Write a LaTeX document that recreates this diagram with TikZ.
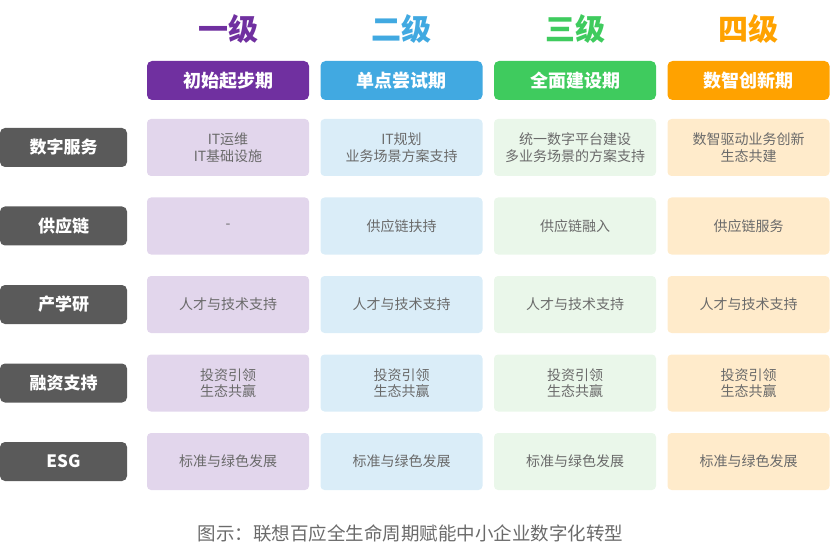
\documentclass[tikz,border=0pt]{standalone}
\usepackage{fontspec}
\setmainfont{Noto Sans CJK SC}
\definecolor{cPur}{HTML}{7030A0}
\definecolor{cBlu}{HTML}{41A9E1}
\definecolor{cGrn}{HTML}{3FCB5E}
\definecolor{cOra}{HTML}{FFA200}
\definecolor{lPur}{HTML}{E2D6EC}
\definecolor{lBlu}{HTML}{DAEDF8}
\definecolor{lGrn}{HTML}{EAF7EA}
\definecolor{lOra}{HTML}{FFEBCB}
\definecolor{cDark}{HTML}{5A5A5A}
\definecolor{cTxt}{HTML}{6A6A6A}
\begin{document}
\begin{tikzpicture}[x=1pt,y=-1pt,
  lvl/.style={font=\fontsize{30}{32}\selectfont\bfseries, inner sep=0pt},
  hdr/.style={rounded corners=5pt, minimum width=162pt, minimum height=39pt, inner sep=0pt, text=white, font=\fontsize{18}{20}\selectfont\bfseries},
  rowlab/.style={fill=cDark, rounded corners=5pt, minimum width=127pt, minimum height=39pt, inner sep=0pt, text=white, font=\fontsize{17}{19}\selectfont\bfseries},
  cell/.style={rounded corners=4pt, minimum width=162pt, minimum height=57pt, inner sep=0pt, text=cTxt, align=center, font=\fontsize{14}{16.5}\selectfont},
  captext/.style={text=cTxt, font=\fontsize{18.5}{20}\selectfont, inner sep=0pt}]
\useasboundingbox (0,0) rectangle (830,556);
% level titles
\node[lvl, text=cPur] (t1) at (228,29) {一级};
\node[lvl, text=cBlu] (t2) at (401.5,29) {二级};
\node[lvl, text=cGrn] (t3) at (575,29) {三级};
\node[lvl, text=cOra] (t4) at (748.5,29) {四级};
% headers
\node[hdr, fill=cPur] (h1) at (228,80.5) {初始起步期};
\node[hdr, fill=cBlu] (h2) at (401.5,80.5) {单点尝试期};
\node[hdr, fill=cGrn] (h3) at (575,80.5) {全面建设期};
\node[hdr, fill=cOra] (h4) at (748.5,80.5) {数智创新期};
% row labels
\node[rowlab] (r1) at (63.5,147.5) {数字服务};
\node[rowlab] (r2) at (63.5,226) {供应链};
\node[rowlab] (r3) at (63.5,304.5) {产学研};
\node[rowlab] (r4) at (63.5,383) {融资支持};
\node[rowlab] (r5) at (63.5,461.5) {ESG};
% row 1
\node[cell, fill=lPur] (c11) at (228,147.5) {IT运维\\IT基础设施};
\node[cell, fill=lBlu] (c12) at (401.5,147.5) {IT规划\\业务场景方案支持};
\node[cell, fill=lGrn] (c13) at (575,147.5) {统一数字平台建设\\多业务场景的方案支持};
\node[cell, fill=lOra] (c14) at (748.5,147.5) {数智驱动业务创新\\生态共建};
% row 2
\node[cell, fill=lPur] (c21) at (228,226) {-};
\node[cell, fill=lBlu] (c22) at (401.5,226) {供应链扶持};
\node[cell, fill=lGrn] (c23) at (575,226) {供应链融入};
\node[cell, fill=lOra] (c24) at (748.5,226) {供应链服务};
% row 3
\node[cell, fill=lPur] (c31) at (228,304.5) {人才与技术支持};
\node[cell, fill=lBlu] (c32) at (401.5,304.5) {人才与技术支持};
\node[cell, fill=lGrn] (c33) at (575,304.5) {人才与技术支持};
\node[cell, fill=lOra] (c34) at (748.5,304.5) {人才与技术支持};
% row 4
\node[cell, fill=lPur] (c41) at (228,383) {投资引领\\生态共赢};
\node[cell, fill=lBlu] (c42) at (401.5,383) {投资引领\\生态共赢};
\node[cell, fill=lGrn] (c43) at (575,383) {投资引领\\生态共赢};
\node[cell, fill=lOra] (c44) at (748.5,383) {投资引领\\生态共赢};
% row 5
\node[cell, fill=lPur] (c51) at (228,461.5) {标准与绿色发展};
\node[cell, fill=lBlu] (c52) at (401.5,461.5) {标准与绿色发展};
\node[cell, fill=lGrn] (c53) at (575,461.5) {标准与绿色发展};
\node[cell, fill=lOra] (c54) at (748.5,461.5) {标准与绿色发展};
% caption
\node[captext] (caption) at (410.5,533) {图示：联想百应全生命周期赋能中小企业数字化转型};
\end{tikzpicture}
\end{document}
